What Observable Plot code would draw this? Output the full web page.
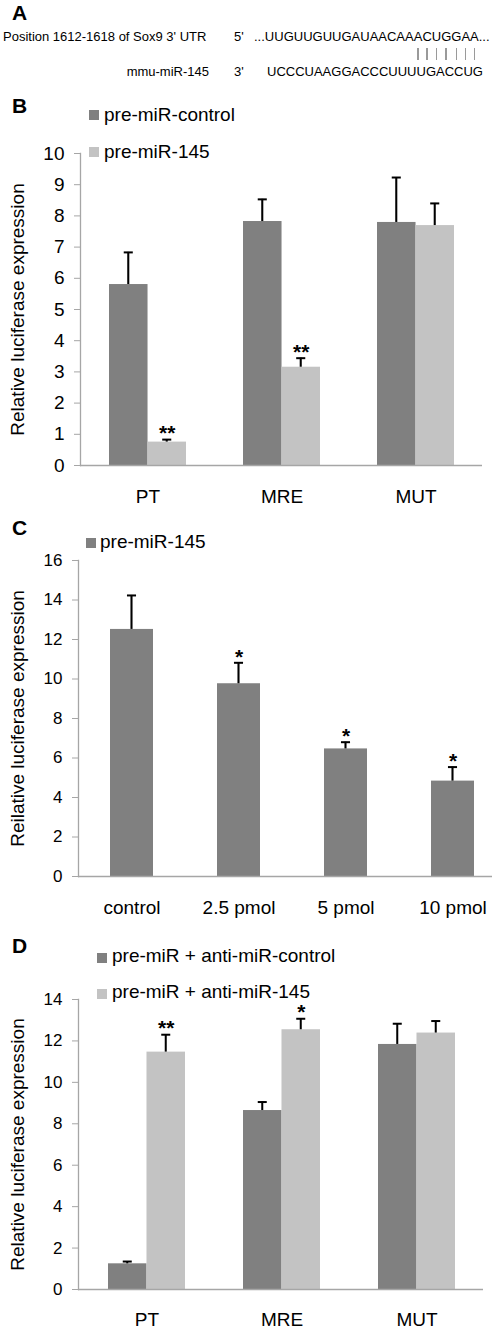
<!DOCTYPE html>
<html><head><meta charset="utf-8">
<script src="https://cdn.jsdelivr.net/npm/d3@7"></script>
<script src="https://cdn.jsdelivr.net/npm/@observablehq/plot@0.6"></script>
<style>
body{margin:0;background:#fff;}
#fig{position:relative;width:498px;height:1330px;overflow:hidden;font-family:"Liberation Sans",Arial,sans-serif;color:#000;background:#fff;}
.abs{position:absolute;white-space:nowrap;}
.letter{font-weight:bold;font-size:21px;line-height:21px;}
.leg{font-size:19px;line-height:19px;}
.sw{position:absolute;width:10px;height:10px;}
.seq{font-size:13px;line-height:13px;}
.pair{position:relative;}
.pair::after{content:"";position:absolute;left:50%;margin-left:-0.75px;top:19px;width:1.5px;height:12px;background:#9a9a9a;}
</style></head><body><div id="fig"></div>
<script>
// ---------- Panel A data ----------
const utrLabel = "Position 1612-1618 of Sox9 3' UTR";
const mirLabel = "mmu-miR-145";
const utrEnd = "5'";
const mirEnd = "3'";
const utrSeq = "UUGUUGUUGAUAACAAACUGGAA";
const mirSeq = "UCCCUAAGGACCCUUUUGACCUG";
const pairedIdx = [16, 17, 18, 19, 20, 21, 22];

// ---------- Panel B data ----------
const bCategories = ["PT", "MRE", "MUT"];
const bSeries = ["pre-miR-control", "pre-miR-145"];
const bControl = [5.80, 7.82, 7.79];
const bControlErr = [1.03, 0.71, 1.44];
const b145 = [0.75, 3.15, 7.69];
const b145Err = [0.08, 0.29, 0.71];
const b145Sig = ["**", "**", ""];
const bTicks = [0, 1, 2, 3, 4, 5, 6, 7, 8, 9, 10];

// ---------- Panel C data ----------
const cCategories = ["control", "2.5 pmol", "5 pmol", "10 pmol"];
const cSeries = ["pre-miR-145"];
const cValues = [12.51, 9.76, 6.46, 4.83];
const cErr = [1.72, 1.06, 0.34, 0.71];
const cSig = ["", "*", "*", "*"];
const cTicks = [0, 2, 4, 6, 8, 10, 12, 14, 16];

// ---------- Panel D data ----------
const dCategories = ["PT", "MRE", "MUT"];
const dSeries = ["pre-miR + anti-miR-control", "pre-miR + anti-miR-145"];
const dControl = [1.24, 8.64, 11.83];
const dControlErr = [0.11, 0.41, 1.00];
const d145 = [11.46, 12.54, 12.38];
const d145Err = [0.84, 0.53, 0.58];
const d145Sig = ["**", "*", ""];
const dTicks = [0, 2, 4, 6, 8, 10, 12, 14];

const yLabelB = "Relative luciferase expression";
const yLabelC = "Reilative luciferase expression";
const yLabelD = "Relative luciferase expression";

const darkGray = "#808080";
const lightGray = "#c3c3c3";
const axisGray = "#a6a6a6";
const W = 498;

const fig = document.getElementById("fig");

function div(cls, text, style) {
  const d = document.createElement("div");
  d.className = "abs " + cls;
  if (text != null) d.textContent = text;
  Object.assign(d.style, style);
  fig.appendChild(d);
  return d;
}

// ---------- Panel A ----------
div("letter", "A", {left: "12px", top: "2px"});
div("seq", utrLabel, {left: "3px", top: "30px"});
div("seq", utrEnd, {left: "234px", top: "30px"});
const utrRow = div("seq", null, {left: "254px", top: "30px"});
utrRow.appendChild(document.createTextNode("..."));
[...utrSeq].forEach((ch, i) => {
  const s = document.createElement("span");
  s.textContent = ch;
  if (pairedIdx.includes(i)) s.className = "pair";
  utrRow.appendChild(s);
});
utrRow.appendChild(document.createTextNode("..."));
div("seq", mirLabel, {right: (W - 209) + "px", top: "65px"});
div("seq", mirEnd, {left: "234px", top: "65px"});
div("seq", mirSeq, {left: "267px", top: "65px"});

// ---------- generic bar panel ----------
function barPanel(cfg) {
  const {categories, series, yDomain, yTicks, yLabel, height, margin, pad, tickFont, catPad, svgTop} = cfg;
  const band = d3.scaleBand().domain(categories)
    .range([margin.left, W - margin.right])
    .paddingInner(pad.inner).paddingOuter(pad.outer).align(pad.align);
  const bw = band.bandwidth();
  const n = series.length, sub = bw / n;
  const marks = [];
  series.forEach((s, k) => {
    const rows = categories.map((c, i) => ({cat: c, value: s.values[i], top: s.values[i] + s.errors[i], sig: s.sig ? s.sig[i] : ""}));
    const left = k * sub, right = (n - 1 - k) * sub, mid = left + sub / 2;
    marks.push(Plot.barY(rows, {x: "cat", y: "value", fill: s.color, insetLeft: left, insetRight: right}));
    marks.push(Plot.barY(rows, {x: "cat", y1: "value", y2: "top", fill: "#000", insetLeft: mid - 1, insetRight: bw - mid - 1}));
    marks.push(Plot.tickY(rows, {x: "cat", y: "top", stroke: "#000", strokeWidth: 2, insetLeft: mid - 4.5, insetRight: bw - mid - 4.5}));
    marks.push(Plot.text(rows.filter(r => r.sig), {x: "cat", y: "top", text: "sig", dx: mid - bw / 2, dy: -6, fontSize: 21, fontWeight: "bold"}));
  });
  const chart = Plot.plot({
    width: W, height,
    marginTop: margin.top, marginBottom: margin.bottom, marginLeft: margin.left, marginRight: margin.right,
    style: {fontFamily: "'Liberation Sans', Arial, sans-serif", color: "#000", background: "transparent", overflow: "visible"},
    x: {domain: categories, paddingInner: pad.inner, paddingOuter: pad.outer, align: pad.align},
    y: {domain: yDomain},
    marks: [
      ...marks,
      Plot.frame({anchor: "left", stroke: axisGray, strokeWidth: 1.3}),
      Plot.ruleY([0], {stroke: axisGray, strokeWidth: 1.3}),
      Plot.axisY({ticks: yTicks, tickSize: 6, tickPadding: 10, stroke: axisGray, fill: "#000", fontSize: tickFont, label: null}),
      Plot.axisX({tickSize: 0, tickPadding: catPad, fill: "#000", fontSize: 19, label: null}),
      Plot.text([yLabel], {text: d => d, frameAnchor: "left", rotate: -90, dx: 17 - margin.left, fontSize: 19, textAnchor: "middle", fill: "#000"})
    ]
  });
  const holder = div("", null, {left: "0px", top: svgTop + "px"});
  holder.appendChild(chart);
}

function legend(items) {
  items.forEach(it => {
    const sw = document.createElement("div");
    sw.className = "sw";
    Object.assign(sw.style, {left: it.sx + "px", top: it.sy + "px", background: it.color});
    fig.appendChild(sw);
    div("leg", it.label, {left: it.tx + "px", top: it.ty + "px"});
  });
}

// ---------- Panel B ----------
div("letter", "B", {left: "12px", top: "95px"});
barPanel({
  categories: bCategories,
  series: [
    {values: bControl, errors: bControlErr, color: darkGray},
    {values: b145, errors: b145Err, sig: b145Sig, color: lightGray}
  ],
  yDomain: [0, 10], yTicks: bTicks, yLabel: yLabelB,
  svgTop: 140, height: 370,
  margin: {top: 13, bottom: 45, left: 80, right: 16},
  pad: {inner: 0.428, outer: 0.2085, align: 0.5},
  tickFont: 19, catPad: 24
});
legend([
  {label: bSeries[0], color: darkGray, sx: 89, sy: 110, tx: 104, ty: 105},
  {label: bSeries[1], color: lightGray, sx: 89, sy: 147, tx: 104, ty: 142}
]);

// ---------- Panel C ----------
div("letter", "C", {left: "12px", top: "517px"});
barPanel({
  categories: cCategories,
  series: [{values: cValues, errors: cErr, sig: cSig, color: darkGray}],
  yDomain: [0, 16], yTicks: cTicks, yLabel: yLabelC,
  svgTop: 550, height: 380,
  margin: {top: 10, bottom: 54, left: 78, right: 6},
  pad: {inner: 0.6, outer: 0.229, align: 0.64},
  tickFont: 17, catPad: 24
});
legend([
  {label: cSeries[0], color: darkGray, sx: 86, sy: 538, tx: 100, ty: 532}
]);

// ---------- Panel D ----------
div("letter", "D", {left: "12px", top: "935px"});
barPanel({
  categories: dCategories,
  series: [
    {values: dControl, errors: dControlErr, color: darkGray},
    {values: d145, errors: d145Err, sig: d145Sig, color: lightGray}
  ],
  yDomain: [0, 14], yTicks: dTicks, yLabel: yLabelD,
  svgTop: 985, height: 345,
  margin: {top: 14, bottom: 41, left: 78, right: 15},
  pad: {inner: 0.432, outer: 0.21, align: 0.51},
  tickFont: 17, catPad: 23
});
legend([
  {label: dSeries[0], color: darkGray, sx: 97, sy: 953, tx: 112, ty: 946},
  {label: dSeries[1], color: lightGray, sx: 97, sy: 989, tx: 112, ty: 982}
]);
</script></body></html>
